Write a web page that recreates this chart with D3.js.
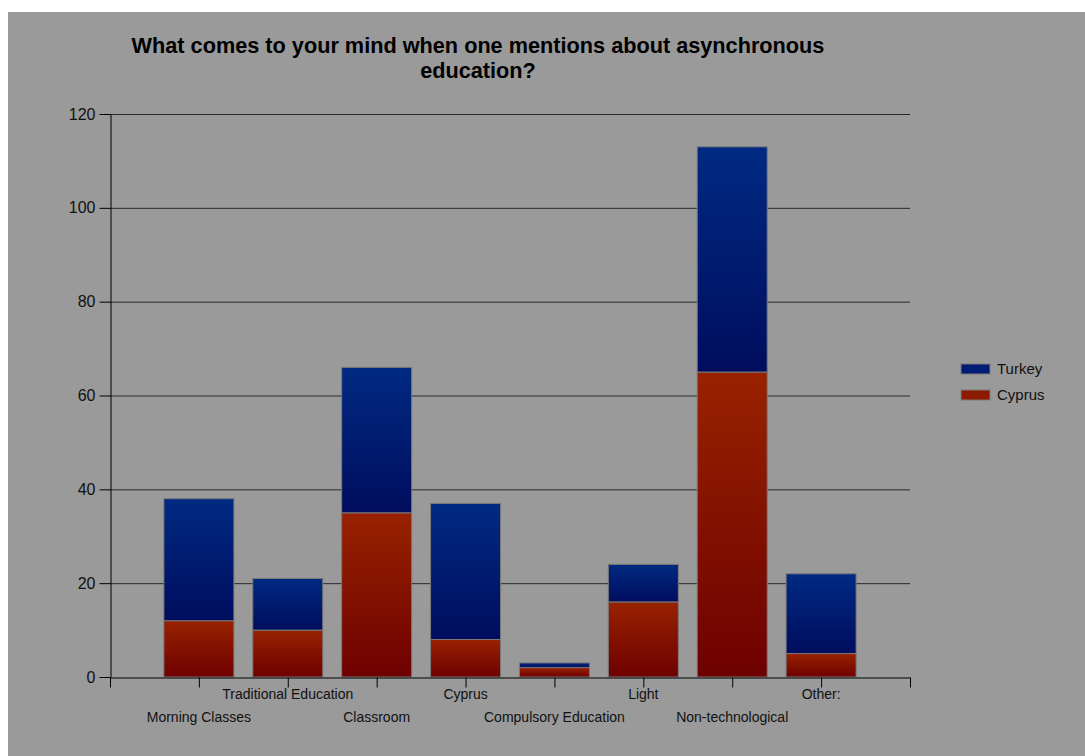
<!DOCTYPE html>
<html><head><meta charset="utf-8">
<script src="https://cdn.jsdelivr.net/npm/d3@7"></script>
<style>body{margin:0;background:#fff;}svg{display:block;}</style>
</head><body>
<svg id="c" width="1085" height="756"></svg>
<script>
const categories = ["Morning Classes","Traditional Education","Classroom","Cyprus","Compulsory Education","Light","Non-technological","Other:"];
const cyprus = [12,10,35,8,2,16,65,5];
const turkey = [26,11,31,29,1,8,48,17];
const yTicks = [0,20,40,60,80,100,120];
const seriesNames = ["Turkey","Cyprus"];

const svg = d3.select("#c");
svg.append("rect").attr("x",8).attr("y",12).attr("width",1077).attr("height",744).attr("fill","#9a9a9a");

const defs = svg.append("defs");
const gb = defs.append("linearGradient").attr("id","gb").attr("x1",0).attr("y1",0).attr("x2",0).attr("y2",1);
gb.append("stop").attr("offset","0%").attr("stop-color","#002a82");
gb.append("stop").attr("offset","100%").attr("stop-color","#000d5e");
const gr = defs.append("linearGradient").attr("id","gr").attr("x1",0).attr("y1",0).attr("x2",0).attr("y2",1);
gr.append("stop").attr("offset","0%").attr("stop-color","#982200");
gr.append("stop").attr("offset","100%").attr("stop-color","#6e0000");

const L=110,R=910,T=114,B=677;
const x = d3.scaleLinear().domain([0,categories.length+1]).range([L,R]);
const y = d3.scaleLinear().domain([0,120]).range([B,T]);
const bw = 70;
const font = "Liberation Sans, Arial, sans-serif";

// gridlines
svg.append("g").selectAll("line").data(yTicks.slice(1)).join("line")
  .attr("x1",L).attr("x2",R).attr("y1",d=>y(d)+0.5).attr("y2",d=>y(d)+0.5)
  .attr("stroke","#2a2a2a").attr("stroke-width",1);

// y axis
const yAxis = svg.append("g").attr("transform",`translate(${L+0.5},0)`)
  .call(d3.axisLeft(y).tickValues(yTicks).tickSize(11).tickPadding(4).tickSizeOuter(0));
yAxis.select(".domain").attr("stroke","#000");
yAxis.selectAll(".tick line").attr("stroke","#000");
yAxis.selectAll("text").attr("font-family",font).attr("font-size",16).attr("fill","#111");

// bars
const g = svg.append("g");
categories.forEach((c,i)=>{
  const cx = x(i+1);
  g.append("rect").attr("x",cx-bw/2).attr("width",bw)
    .attr("y",y(cyprus[i])).attr("height",y(0)-y(cyprus[i]))
    .attr("fill","url(#gr)").attr("stroke","#7a7a7a").attr("stroke-width",1);
  g.append("rect").attr("x",cx-bw/2).attr("width",bw)
    .attr("y",y(cyprus[i]+turkey[i])).attr("height",y(cyprus[i])-y(cyprus[i]+turkey[i]))
    .attr("fill","url(#gb)").attr("stroke","#7a7a7a").attr("stroke-width",1);
});

// x axis
const xt = d3.range(0,categories.length+2);
const xAxis = svg.append("g").attr("transform",`translate(0,${B+0.5})`)
  .call(d3.axisBottom(x).tickValues(xt).tickSize(10).tickFormat("").tickSizeOuter(0));
xAxis.select(".domain").attr("stroke","#000");
xAxis.selectAll(".tick line").attr("stroke","#000");
svg.append("g").selectAll("text").data(categories).join("text")
  .attr("x",(d,i)=>x(i+1)).attr("y",(d,i)=> i%2===0 ? 722 : 699)
  .attr("text-anchor","middle").attr("font-family",font)
  .attr("font-size",14).attr("fill","#111").text(d=>d);

// title
const title = svg.append("text").attr("text-anchor","middle").attr("font-family",font)
  .attr("font-weight","bold").attr("font-size",21.7).attr("fill","#000");
title.append("tspan").attr("x",478).attr("y",53).text("What comes to your mind when one mentions about asynchronous");
title.append("tspan").attr("x",478).attr("y",78).text("education?");

// legend
const lg = svg.append("g");
seriesNames.forEach((s,i)=>{
  const yy = 364 + i*26;
  lg.append("rect").attr("x",961).attr("y",yy).attr("width",29).attr("height",10)
    .attr("fill", s==="Turkey" ? "#001b78" : "#8e1a00").attr("stroke","#7a7a7a");
  lg.append("text").attr("x",997).attr("y",yy+10).attr("font-family",font)
    .attr("font-size",15).attr("fill","#111").text(s);
});
</script>
</body></html>
